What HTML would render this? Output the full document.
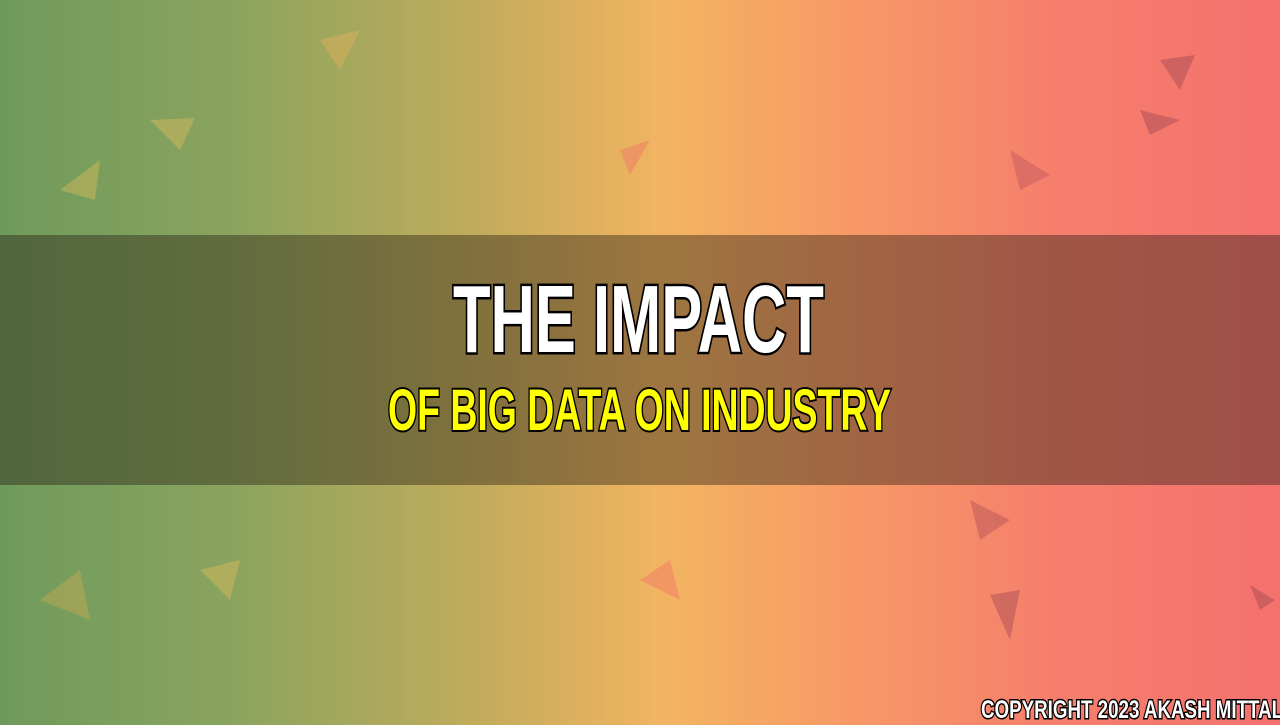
<!DOCTYPE html>
<html>
<head>
<meta charset="utf-8">
<style>
html,body{margin:0;padding:0;}
body{width:1280px;height:720px;overflow:hidden;position:relative;
background:linear-gradient(90deg,#6f9a5c 0%,#8aa45e 18%,#c4ac5c 38%,#f3b462 52%,#f79a66 66%,#f67f6c 82%,#f4716e 100%);}
#bg{position:absolute;left:0;top:0;}
.band{position:absolute;left:0;top:235px;width:1280px;height:250px;background:rgba(40,30,20,0.42);}
.t{position:absolute;font-family:"Liberation Sans",sans-serif;font-weight:bold;white-space:nowrap;transform-origin:left top;}
.title{left:453px;top:265px;font-size:96px;color:#fff;-webkit-text-stroke:5px #000;paint-order:stroke fill;transform:scaleX(0.64);}
.sub{left:388px;top:377px;font-size:58px;color:#ffff00;-webkit-text-stroke:4px #000;paint-order:stroke fill;transform:scaleX(0.645);}
.copy{left:981px;top:696px;font-size:25px;color:#fff;-webkit-text-stroke:3px #000;paint-order:stroke fill;transform:scaleX(0.75);}
</style>
</head>
<body>
<svg id="bg" width="1280" height="720">
<g opacity="0.35">
<polygon points="150,120 195,118 180,150" fill="#f7c45a"/>
<polygon points="60,190 100,160 95,200" fill="#f7c45a"/>
<polygon points="320,40 360,30 340,70" fill="#f7b45a"/>
<polygon points="620,150 650,140 630,175" fill="#f0606a"/>
<polygon points="1160,60 1195,55 1180,90" fill="#8a3a4a"/>
<polygon points="1140,110 1180,120 1150,135" fill="#8a3a4a"/>
<polygon points="1010,150 1050,175 1020,190" fill="#b04a5a"/>
<polygon points="200,570 240,560 230,600" fill="#f7c45a"/>
<polygon points="990,595 1020,590 1010,640" fill="#8a3a4a"/>
<polygon points="970,500 1010,520 980,540" fill="#a04050"/>
<polygon points="1250,585 1275,600 1260,610" fill="#8a3a4a"/>
<polygon points="640,580 670,560 680,600" fill="#f0606a"/>
<polygon points="40,600 80,570 90,620" fill="#e0b050"/>
</g>
</svg>
<div class="band"></div>
<div class="t title">THE IMPACT</div>
<div class="t sub">OF BIG DATA ON INDUSTRY</div>
<div class="t copy">COPYRIGHT 2023 AKASH MITTAL</div>
</body>
</html>
